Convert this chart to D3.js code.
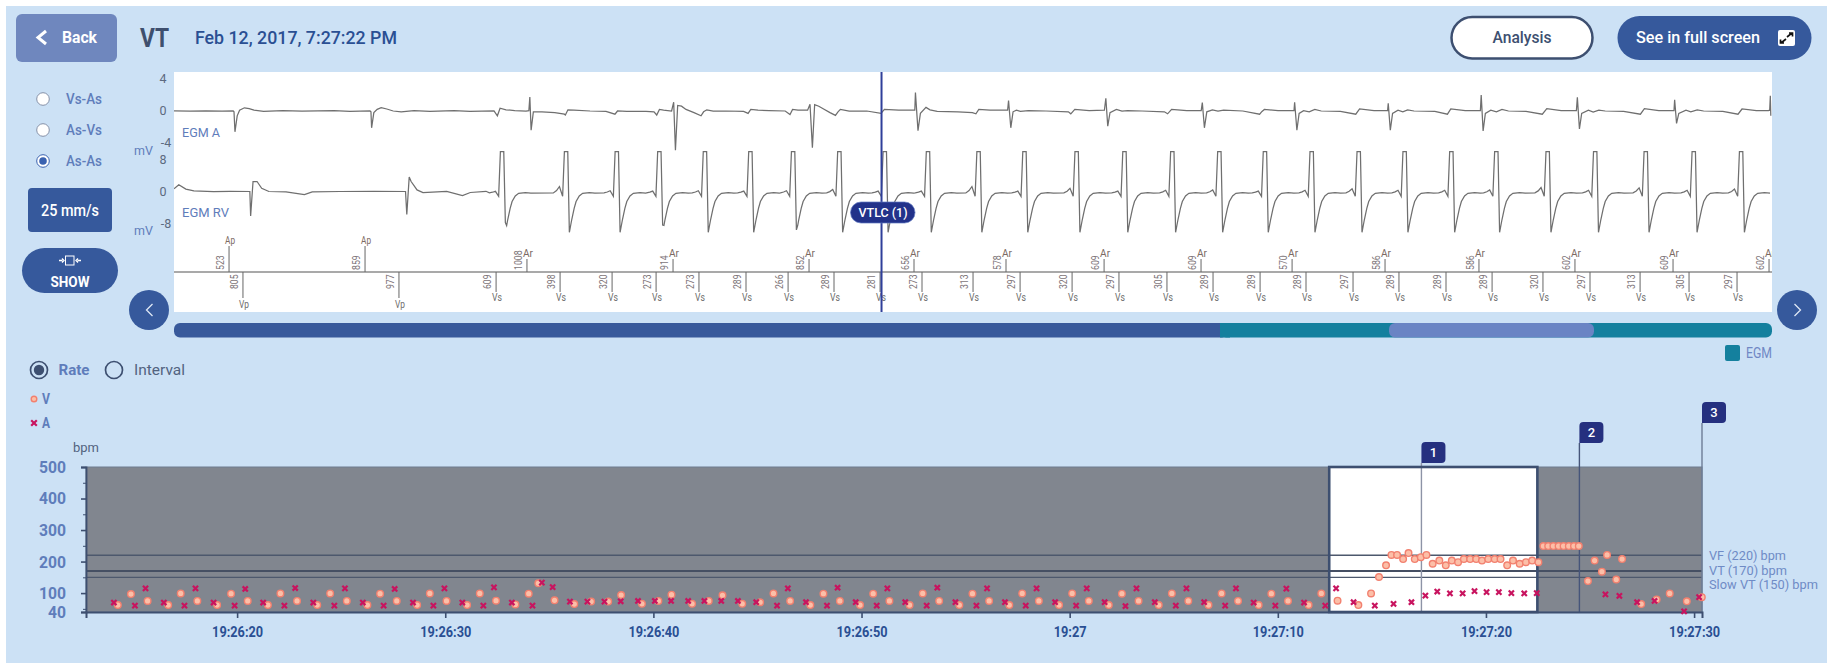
<!DOCTYPE html>
<html><head><meta charset="utf-8">
<script src="https://cdn.jsdelivr.net/npm/d3@7"></script>
<style>html,body{margin:0;background:#fff}svg{display:block}text{font-family:Roboto,"Noto Sans",sans-serif}</style>
</head><body><svg id="c" width="1846" height="669"></svg>
<script>
// ---- rate chart data (seconds after 19:26:00, bpm)
const vSec=[14.27,14.90,15.70,16.69,17.29,18.09,19.04,19.71,20.51,21.48,22.08,22.88,23.85,24.47,25.27,26.26,26.87,27.67,28.65,29.26,30.06,31.05,31.66,32.44,33.37,34.01,34.47,35.25,36.20,37.01,37.83,38.45,39.45,40.24,40.87,41.86,42.66,43.32,44.27,45.13,45.77,46.57,47.54,48.17,48.96,49.93,50.56,51.34,52.31,52.94,53.73,54.70,55.33,56.13,57.10,57.72,58.52,59.49,60.12,60.92,61.88,62.51,63.31,64.28,64.91,65.70,66.67,67.30,68.09,69.08,69.69,70.49,71.48,72.09,72.87,73.87,74.48,74.86,75.20,75.46,75.73,76.02,76.28,76.58,76.87,77.14,77.44,77.76,78.07,78.36,78.66,78.94,79.24,79.53,79.81,80.11,80.42,80.70,81.02,81.30,81.62,81.92,82.22,82.52,82.76,82.99,83.24,83.49,83.73,83.98,84.23,84.46,84.90,85.22,85.57,85.82,86.26,86.54,87.46,88.20,88.83,89.65,90.37];
const vBpm=[62,97,75,62,99,75,62,98,75,62,99,75,62,99,75,62,98,75,62,99,75,62,99,76,64,98,131,77,65,73,73,94,66,75,95,66,75,93,66,71,99,75,62,98,75,62,98,75,62,99,75,62,98,75,62,99,75,62,99,75,62,98,75,62,99,75,62,99,75,62,98,75,62,99,76,62,99,151,188,221,221,208,227,208,214,221,193,203,188,203,198,208,208,208,203,208,208,208,188,203,193,198,203,198,249,249,249,249,249,249,249,249,138,203,168,221,143,208,65,80,99,74,87];
const aSec=[14.08,15.09,15.60,16.48,17.47,18.00,18.87,19.88,20.39,21.25,22.27,22.79,23.66,24.67,25.18,26.04,27.04,27.57,28.45,29.43,29.96,30.82,31.83,32.34,33.20,34.19,34.64,35.16,35.99,36.83,37.65,38.43,39.26,40.07,40.85,41.67,42.45,43.26,44.06,44.94,45.94,46.46,47.33,48.34,48.85,49.72,50.73,51.24,52.10,53.13,53.64,54.51,55.52,56.03,56.89,57.89,58.41,59.30,60.31,60.82,61.68,62.68,63.21,64.09,65.10,65.61,66.46,67.47,67.99,68.84,69.88,70.41,71.26,72.28,72.80,73.64,74.66,75.56,76.42,77.09,77.66,78.27,78.88,79.45,80.03,80.62,81.22,81.84,82.44,85.74,86.41,87.26,88.10,89.52,90.24];
const aBpm=[70,60,115,70,60,115,70,60,113,70,60,116,70,60,115,70,60,113,70,60,115,70,60,118,70,60,133,119,73,73,73,74,75,75,75,75,75,75,75,71,60,115,71,60,117,71,60,115,71,60,117,71,60,115,71,60,115,71,60,115,71,59,115,71,60,115,71,60,115,70,60,114,70,60,115,71,60,66,71,92,105,99,99,106,103,103,100,99,100,96,91,71,75,42,87];
const yMajor=[40,100,200,300,400,500];
const yMinor=[50,150,250,350,450];
const xTickSec=[20,30,40,50,60,70,80,90];
const xTickLabels=["19:26:20","19:26:30","19:26:40","19:26:50","19:27","19:27:10","19:27:20","19:27:30"];
const thresholds=[220,170,150];
const thresholdLabels=["VF (220) bpm","VT (170) bpm","Slow VT (150) bpm"];
const windowSec=[72.47,82.47];
const markerSec=[76.90,84.49,90.38];
const markerLabels=["1","2","3"];

// ---- EGM event channel (ms from the left edge of the strip)
const vTickMs=[431,1406,2013,2413,2738,3013,3281,3575,3838,4125,4413,4675,4994,5288,5613,5906,6206,6494,6788,7075,7369,7656,7950,8238,8556,8850,9163,9469,9769];
const vTickLabel=[805,977,609,398,320,273,273,289,266,289,281,273,313,297,320,297,305,289,289,289,297,289,289,289,320,297,313,305,297];
const vTickType=["Vp","Vp","Vs","Vs","Vs","Vs","Vs","Vs","Vs","Vs","Vs","Vs","Vs","Vs","Vs","Vs","Vs","Vs","Vs","Vs","Vs","Vs","Vs","Vs","Vs","Vs","Vs","Vs","Vs"];
const aTickMs=[344,1194,2206,3119,3969,4625,5200,5813,6419,6988,7569,8156,8756,9369,9969];
const aTickLabel=[523,859,1008,914,852,656,578,609,609,570,586,586,602,609,602];
const aTickType=["Ap","Ap","Ar","Ar","Ar","Ar","Ar","Ar","Ar","Ar","Ar","Ar","Ar","Ar","Ar"];
const cursorMs=4422;

// ---- EGM A trace: [ms, mV]
const egmA=[[0,.03],[100,-.03],[200,.03],[300,-.02],[370,0],[375,-.1],[381,-2.6],[395,-.6],[410,.1],[440,.4],[470,.3],[500,.1],[560,-.05],[680,.05],[800,0],[1000,.05],[1100,-.05],[1225,0],[1231,-.1],[1235,-2.1],[1249,-.2],[1270,.2],[1295,.42],[1330,.25],[1370,0],[1420,-.1],[1500,.05],[1600,-.05],[1750,.05],[1850,-.05],[2000,0],[2021,-.6],[2038,.35],[2075,.15],[2130,.05],[2200,0],[2218,.05],[2224,1.75],[2232,-2.4],[2246,-.1],[2265,-.1],[2300,-.1],[2380,-.2],[2440,-.4],[2446,-.5],[2462,.15],[2500,.1],[2600,0],[2700,-.05],[2756,-.4],[2772,0],[2830,-.05],[2950,-.05],[3000,-.1],[3017,-.5],[3034,.2],[3060,.1],[3110,0],[3123,1.1],[3134,-4.9],[3148,.7],[3172,.6],[3200,.2],[3250,-.2],[3294,-.6],[3310,-.1],[3330,.15],[3370,0],[3450,0],[3560,-.05],[3588,-.3],[3605,.2],[3650,.1],[3720,.05],[3820,0],[3850,-.45],[3866,.2],[3900,.1],[3960,.1],[3975,.85],[3990,-4.6],[4004,.8],[4030,.6],[4060,.25],[4100,-.2],[4134,-.55],[4150,-.1],[4165,.2],[4220,0],[4330,0],[4419,-.3],[4440,.2],[4530,.1],[4630,.1],[4634,2.3],[4650,-2.45],[4665,-.3],[4700,.45],[4725,.15],[4770,-.05],[4900,-.1],[4990,-.2],[5012,-.35],[5030,.2],[5100,.1],[5210,.1],[5216,1.3],[5230,-2.1],[5244,-.1],[5265,.1],[5290,-.05],[5340,.05],[5450,0],[5590,-.1],[5605,-.35],[5630,.2],[5720,.05],[5815,.1],[5824,1.6],[5836,-1.9],[5850,-.2],[5890,.2],[5925,0],[5960,.05],[6050,0],[6190,-.1],[6210,-.35],[6235,.2],[6330,.05],[6420,.05],[6427,1.05],[6440,-2.1],[6455,-.1],[6490,.15],[6525,0],[6560,.1],[6680,0],[6785,-.4],[6800,-.05],[6815,.2],[6900,.05],[7000,.05],[7004,1.1],[7018,-2.4],[7032,-.3],[7060,.05],[7095,-.1],[7130,.2],[7170,0],[7290,-.05],[7386,-.4],[7410,.25],[7500,.05],[7585,.05],[7589,.95],[7602,-2.4],[7616,-.3],[7650,.1],[7680,-.1],[7710,.15],[7750,0],[7880,-.05],[7959,-.4],[7980,.25],[8070,.05],[8165,.05],[8170,2],[8182,-2.5],[8196,-.3],[8230,.1],[8265,-.1],[8300,.2],[8340,0],[8450,-.05],[8552,-.4],[8580,.3],[8670,.05],[8765,.05],[8771,1.7],[8784,-2.25],[8798,-.3],[8840,.1],[8870,-.15],[8905,.1],[8945,0],[9060,-.05],[9165,-.4],[9190,.3],[9280,.05],[9375,.05],[9379,1.4],[9391,-1.55],[9405,-.3],[9450,.1],[9480,-.1],[9520,.15],[9560,0],[9680,-.05],[9775,-.4],[9800,.25],[9890,.05],[9965,.05],[9973,.1],[9977,1.9],[9980,-.6]];
// ---- EGM RV: opening paced beats, then one read beat shape placed at each read beat
const rvLead=[[0,.67],[30,1.67],[74,.6],[124,.15],[247,0],[350,.06],[474,0],[479,-6.1],[494,2.5],[519,2.5],[548,.8],[593,0],[700,-.1],[815,-.8],[864,-.1],[1037,0],[1250,.05],[1447,0],[1455,-5.75],[1470,3.6],[1482,2.5],[1519,.4],[1556,-.25],[1704,0],[1803,-1],[1852,-.25],[1950,.05]];
const rvBeatMs=[2071,2471,2788,3054,3339,3623,3890,4179,4463,4733,5049,5336,5662,5961,6260,6554,6839,7131,7425,7712,8004,8285,8606,8903,9219,9519,9815];
const rvDepth=[-7.75,-10.2,-10.2,-8.4,-10.2,-10.2,-9.6,-10.2,-10.2,-10.2,-10.2,-10.2,-10.2,-10.2,-10.2,-10.2,-10.2,-10.2,-10.2,-10.2,-10.2,-10.2,-10.2,-10.2,-10.2,-10.2,-10.2];
const rvHump=[.05,1.25,.2,.1,.2,.1,.2,.5,.1,.1,1.25,.1,.8,.1,.3,.4,.1,.3,.7,.3,.3,.4,1,.3,.9,.3,.6];
const rvRiseMs=[-100,-80,-62,-42,-31,-10];
const rvRiseMv=[-.35,-.2,0,-1.2,10,10];
const rvRiseHump=[0,.35,1,0,0,0];
const rvFallMs=[8,15,21,30,42,62,83,125,160];
const rvFallMv=[-8.5,-7,-5.9,-4.2,-2.5,-1.1,-.45,-.3,-.4];

const uiStrip=[{from:174,to:1220,c:"#38599b"},{from:1220,to:1772,c:"#14809e"}];

// ---- drawing
const svg=d3.select("#c");
const C={panel:"#cce1f5",blue:"#36599c",ink:"#3d4f70",label:"#5f7dbb",axis:"#52637f",soft:"#6f8bc6",title:"#2a4f93",navy:"#25307f"};
function txt(g,x,y,s,o={}){const t=g.append("text").attr("x",x).attr("y",y).attr("dy",".35em")
  .attr("font-size",o.size||14).attr("font-weight",o.weight||400).attr("fill",o.fill||C.axis).attr("text-anchor",o.anchor||"start").text(s);
  if(o.len)t.attr("textLength",o.len).attr("lengthAdjust","spacingAndGlyphs");if(o.rot)t.attr("transform",`rotate(${o.rot},${x},${y})`);return t;}
svg.append("rect").attr("x",6).attr("y",6).attr("width",1821).attr("height",657).attr("fill",C.panel);

// header
svg.append("rect").attr("x",16).attr("y",14).attr("width",101).attr("height",48).attr("rx",6).attr("fill","#6f87be");
svg.append("path").attr("d","M46 31l-8 6.5l8 6.5").attr("fill","none").attr("stroke","#fff").attr("stroke-width",3);
txt(svg,62,37.5,"Back",{size:16,weight:700,fill:"#fff",len:35});
txt(svg,140,38,"VT",{size:25,weight:700,fill:"#3e4f6e",len:29});
txt(svg,195,38,"Feb 12, 2017, 7:27:22 PM",{size:18,weight:500,fill:C.title,len:202});
svg.append("rect").attr("x",1451.5).attr("y",17).attr("width",141).attr("height",41.5).attr("rx",20.7).attr("fill","#fff").attr("stroke",C.ink).attr("stroke-width",2.5);
txt(svg,1522,37.5,"Analysis",{size:16,weight:500,fill:C.ink,anchor:"middle",len:59});
svg.append("rect").attr("x",1617.5).attr("y",16).attr("width",194).attr("height",44).attr("rx",22).attr("fill",C.blue);
txt(svg,1636,37.5,"See in full screen",{size:16,weight:500,fill:"#fff",len:124});
svg.append("rect").attr("x",1778).attr("y",30).attr("width",17).attr("height",16).attr("rx",2).attr("fill","#fff");
svg.append("path").attr("d","M1787 37l5-4M1789 33h3.5v3.5M1786 39l-5 4M1784 43h-3.5v-3.5").attr("stroke","#111").attr("stroke-width",1.7).attr("fill","none");

// left controls
[["Vs-As",99,0],["As-Vs",130,0],["As-As",161,1]].forEach(([s,y,on])=>{
  svg.append("circle").attr("cx",43).attr("cy",y).attr("r",6.3).attr("fill","#fff").attr("stroke",on?"#3a62b0":"#8691a8").attr("stroke-width",1);
  if(on)svg.append("circle").attr("cx",43).attr("cy",y).attr("r",3.8).attr("fill","#3a62b0");
  txt(svg,66,y,s,{size:14.5,weight:500,fill:C.label,len:36});
});
svg.append("rect").attr("x",28).attr("y",188).attr("width",84).attr("height",44).attr("rx",4).attr("fill",C.blue);
txt(svg,70,210,"25 mm/s",{size:16,weight:500,fill:"#fff",anchor:"middle",len:58});
svg.append("rect").attr("x",22).attr("y",248).attr("width",96).attr("height",45).attr("rx",22.5).attr("fill",C.blue);
svg.append("rect").attr("x",65.5).attr("y",256).attr("width",8.5).attr("height",9).attr("fill","none").attr("stroke","#fff").attr("stroke-width",1);
svg.append("path").attr("d","M59 260.5h3.5M62 258.5l2 2l-2 2M81 260.5h-3.5M78 258.5l-2 2l2 2").attr("fill","none").attr("stroke","#fff").attr("stroke-width",1.3);
txt(svg,70,282,"SHOW",{size:14,weight:700,fill:"#fff",anchor:"middle",len:39});
[[149,"M152.5 304l-6 6l6 6"],[1797,"M1794.5 304l6 6l-6 6"]].forEach(([x,d])=>{
  svg.append("circle").attr("cx",x).attr("cy",310).attr("r",20).attr("fill",C.blue);
  svg.append("path").attr("d",d).attr("fill","none").attr("stroke","#dfe8f5").attr("stroke-width",1.3);
});

// EGM strip
const strip={l:174,r:1772,t:72,b:312};
svg.append("rect").attr("x",strip.l).attr("y",strip.t).attr("width",strip.r-strip.l).attr("height",strip.b-strip.t).attr("fill","#fff");
svg.append("clipPath").attr("id","sc").append("rect").attr("x",strip.l).attr("y",strip.t).attr("width",strip.r-strip.l).attr("height",strip.b-strip.t);
const egmX=d3.scaleLinear().domain([0,9987.5]).range([strip.l,strip.r]);
const yA=d3.scaleLinear().domain([4,-4]).range([79,143]);
const yR=d3.scaleLinear().domain([8,-8]).range([159.5,223.5]);
[[4,yA],[0,yA],[-4,yA],[8,yR],[0,yR],[-8,yR]].forEach(([v,s])=>txt(svg,v<0?166:163,s(v),v,{size:12.5,anchor:"middle",fill:"#5c6a80"}));
[151,231].forEach(y=>txt(svg,134,y,"mV",{size:12.5,fill:C.label}));
const rvWave=rvLead.slice();
rvBeatMs.forEach((t,i)=>{
  rvRiseMs.forEach((d,k)=>rvWave.push([t+d,rvRiseMv[k]+rvRiseHump[k]*rvHump[i]]));
  rvWave.push([t,rvDepth[i]]);
  rvFallMs.forEach((d,k)=>rvWave.push([t+d,rvFallMv[k]]));
});
const gs=svg.append("g").attr("clip-path","url(#sc)");
gs.append("path").attr("d",d3.line().x(d=>egmX(d[0])).y(d=>yA(d[1]))(egmA)).attr("fill","none").attr("stroke","#6f6f6f").attr("stroke-width",1.25);
gs.append("path").attr("d",d3.line().x(d=>egmX(d[0])).y(d=>yR(d[1]))(rvWave)).attr("fill","none").attr("stroke","#6f6f6f").attr("stroke-width",1.25);
txt(svg,182,132,"EGM A",{size:13,fill:C.label,len:38});
txt(svg,182,212,"EGM RV",{size:13,fill:C.label,len:47});
gs.append("line").attr("x1",strip.l).attr("x2",strip.r).attr("y1",272).attr("y2",272).attr("stroke","#8c8c8c").attr("stroke-width",1.6);
aTickMs.forEach((t,i)=>{const x=egmX(t),p=aTickType[i]=="Ap";
  gs.append("line").attr("x1",x).attr("x2",x).attr("y1",p?246:259).attr("y2",272).attr("stroke","#666").attr("stroke-width",1);
  txt(gs,x+1,p?240:253,aTickType[i],{size:11.5,anchor:"middle",fill:"#7c6a63",len:10});
  const s=String(aTickLabel[i]);
  txt(gs,x-9,270,s,{size:11,fill:"#7d7478",len:s.length*4.9,rot:-90});
});
vTickMs.forEach((t,i)=>{const x=egmX(t),p=vTickType[i]=="Vp";
  gs.append("line").attr("x1",x).attr("x2",x).attr("y1",272).attr("y2",p?298:292).attr("stroke","#666").attr("stroke-width",1);
  txt(gs,x+1,p?304:297,vTickType[i],{size:11.5,anchor:"middle",fill:"#6d6d6d",len:10});
  txt(gs,x-9,289,vTickLabel[i],{size:11,fill:"#7d7478",len:14.5,rot:-90});
});
const cx=egmX(cursorMs);
svg.append("line").attr("x1",cx).attr("x2",cx).attr("y1",strip.t).attr("y2",strip.b).attr("stroke","#2f3f9a").attr("stroke-width",2);
svg.append("rect").attr("x",850.5).attr("y",202).attr("width",64.5).attr("height",21).attr("rx",10.5).attr("fill","#22328a").attr("stroke","#5f78c0").attr("stroke-width",.7);
txt(svg,883,212.5,"VTLC (1)",{size:13,weight:500,fill:"#fff",anchor:"middle",len:49});

// position strip
svg.append("rect").attr("x",uiStrip[0].from).attr("y",323).attr("width",uiStrip[0].to-uiStrip[0].from+8).attr("height",14.5).attr("rx",6).attr("fill",uiStrip[0].c);
svg.append("rect").attr("x",uiStrip[1].from).attr("y",323).attr("width",uiStrip[1].to-uiStrip[1].from).attr("height",14.5).attr("rx",6).attr("fill",uiStrip[1].c);
svg.append("rect").attr("x",uiStrip[1].from).attr("y",323).attr("width",10).attr("height",14.5).attr("fill",uiStrip[1].c);
svg.append("rect").attr("x",1389).attr("y",323).attr("width",205).attr("height",14.5).attr("rx",6).attr("fill","#6a84c4");
svg.append("rect").attr("x",1725).attr("y",345).attr("width",15).attr("height",16).attr("rx",2).attr("fill",uiStrip[1].c);
txt(svg,1746,353,"EGM",{size:14,fill:"#6f87c4",len:26});

// rate/interval switch and legend
svg.append("circle").attr("cx",39).attr("cy",370).attr("r",8.5).attr("fill","none").attr("stroke",C.ink).attr("stroke-width",1.7);
svg.append("circle").attr("cx",39).attr("cy",370).attr("r",5.2).attr("fill",C.ink);
txt(svg,58.5,370,"Rate",{size:15,weight:700,fill:C.label,len:31});
svg.append("circle").attr("cx",114).attr("cy",370).attr("r",8.5).attr("fill","none").attr("stroke",C.ink).attr("stroke-width",1.7);
txt(svg,134,370,"Interval",{size:15,fill:C.axis,len:51});
function dot(g,x,y,r){g.append("circle").attr("cx",x).attr("cy",y).attr("r",r).attr("fill","#fcbfa8").attr("stroke","#f2806f").attr("stroke-width",1.4);}
function cross(g,x,y,h){g.append("path").attr("d",`M${x-h} ${y-h}L${x+h} ${y+h}M${x+h} ${y-h}L${x-h} ${y+h}`).attr("stroke","#c8145f").attr("stroke-width",2.2);}
dot(svg,34,399,2.8);txt(svg,42,399,"V",{size:14,weight:700,fill:C.label,len:8});
cross(svg,34,423,2.8);txt(svg,42,423,"A",{size:14,weight:700,fill:C.label,len:8});
txt(svg,73,447,"bpm",{size:13.5,fill:C.axis,len:26});

// rate chart
const P={l:86,r:1702,t:467,b:612};
const x=d3.scaleLinear().domain([12.74,90.38]).range([P.l,P.r]);
const y=d3.scaleLinear().domain([40,500]).range([P.b,P.t]);
svg.append("rect").attr("x",P.l).attr("y",P.t).attr("width",P.r-P.l).attr("height",P.b-P.t).attr("fill","#81868f").attr("stroke","#6f7c90").attr("stroke-width",1);
const wx0=x(windowSec[0]),wx1=x(windowSec[1]);
svg.append("rect").attr("x",wx0).attr("y",P.t).attr("width",wx1-wx0).attr("height",P.b-P.t).attr("fill","#fff");
thresholds.forEach(v=>svg.append("line").attr("x1",P.l).attr("x2",P.r).attr("y1",y(v)).attr("y2",y(v)).attr("stroke",v==170?"#454f63":"#4d586d").attr("stroke-width",v==170?1.8:1.4));
thresholdLabels.forEach((s,i)=>txt(svg,1709,[556,570.5,585][i],s,{size:12.5,fill:C.soft,len:[77,78,109][i]}));
markerSec.forEach((t,i)=>{const mx=x(t),top=[463,443,423][i];
  svg.append("line").attr("x1",mx).attr("x2",mx).attr("y1",top).attr("y2",P.b).attr("stroke",["#8d93a6","#46557a","#6d7d96"][i]).attr("stroke-width",1.4);
  svg.append("path").attr("d",`M${mx} ${top}v-17q0 -4 4 -4h16q4 0 4 4v13q0 4 -4 4z`).attr("fill",C.navy);
  txt(svg,mx+12,top-10.5,markerLabels[i],{size:13,weight:500,fill:"#fff",anchor:"middle"});
});
svg.append("rect").attr("x",wx0).attr("y",P.t).attr("width",wx1-wx0).attr("height",P.b-P.t).attr("fill","none").attr("stroke",C.ink).attr("stroke-width",2.6);
const ax=svg.append("g").attr("transform",`translate(0,${P.b})`).call(d3.axisBottom(x).tickValues(xTickSec).tickSize(6).tickPadding(9).tickFormat((d,i)=>xTickLabels[i]));
ax.select(".domain").attr("stroke",C.ink).attr("stroke-width",2);
ax.selectAll("line").attr("stroke",C.ink).attr("stroke-width",1.6);
ax.selectAll("text").attr("font-size",14.5).attr("font-weight",700).attr("fill",C.title).attr("font-family","Roboto").each(function(d,i){const s=xTickLabels[i];d3.select(this).attr("textLength",s.length>5?51:33).attr("lengthAdjust","spacingAndGlyphs");});
const ay=svg.append("g").attr("transform",`translate(${P.l},0)`).call(d3.axisLeft(y).tickValues(yMajor).tickSize(5).tickPadding(15));
ay.select(".domain").attr("stroke",C.ink).attr("stroke-width",1.8);
ay.selectAll("line").attr("stroke",C.ink).attr("stroke-width",1.6);
ay.selectAll("text").attr("font-size",17).attr("font-weight",700).attr("fill",C.label).attr("font-family","Roboto").each(function(d){d3.select(this).attr("textLength",d>=100?27:18).attr("lengthAdjust","spacingAndGlyphs");});
const ay2=svg.append("g").attr("transform",`translate(${P.l},0)`).call(d3.axisLeft(y).tickValues(yMinor).tickSize(3).tickFormat(""));
ay2.select(".domain").remove();ay2.selectAll("line").attr("stroke",C.ink);
const pts=svg.append("g");
vSec.forEach((t,i)=>dot(pts,x(t),y(vBpm[i]),3.3));
aSec.forEach((t,i)=>cross(pts,x(t),y(aBpm[i]),2.6));
</script></body></html>
